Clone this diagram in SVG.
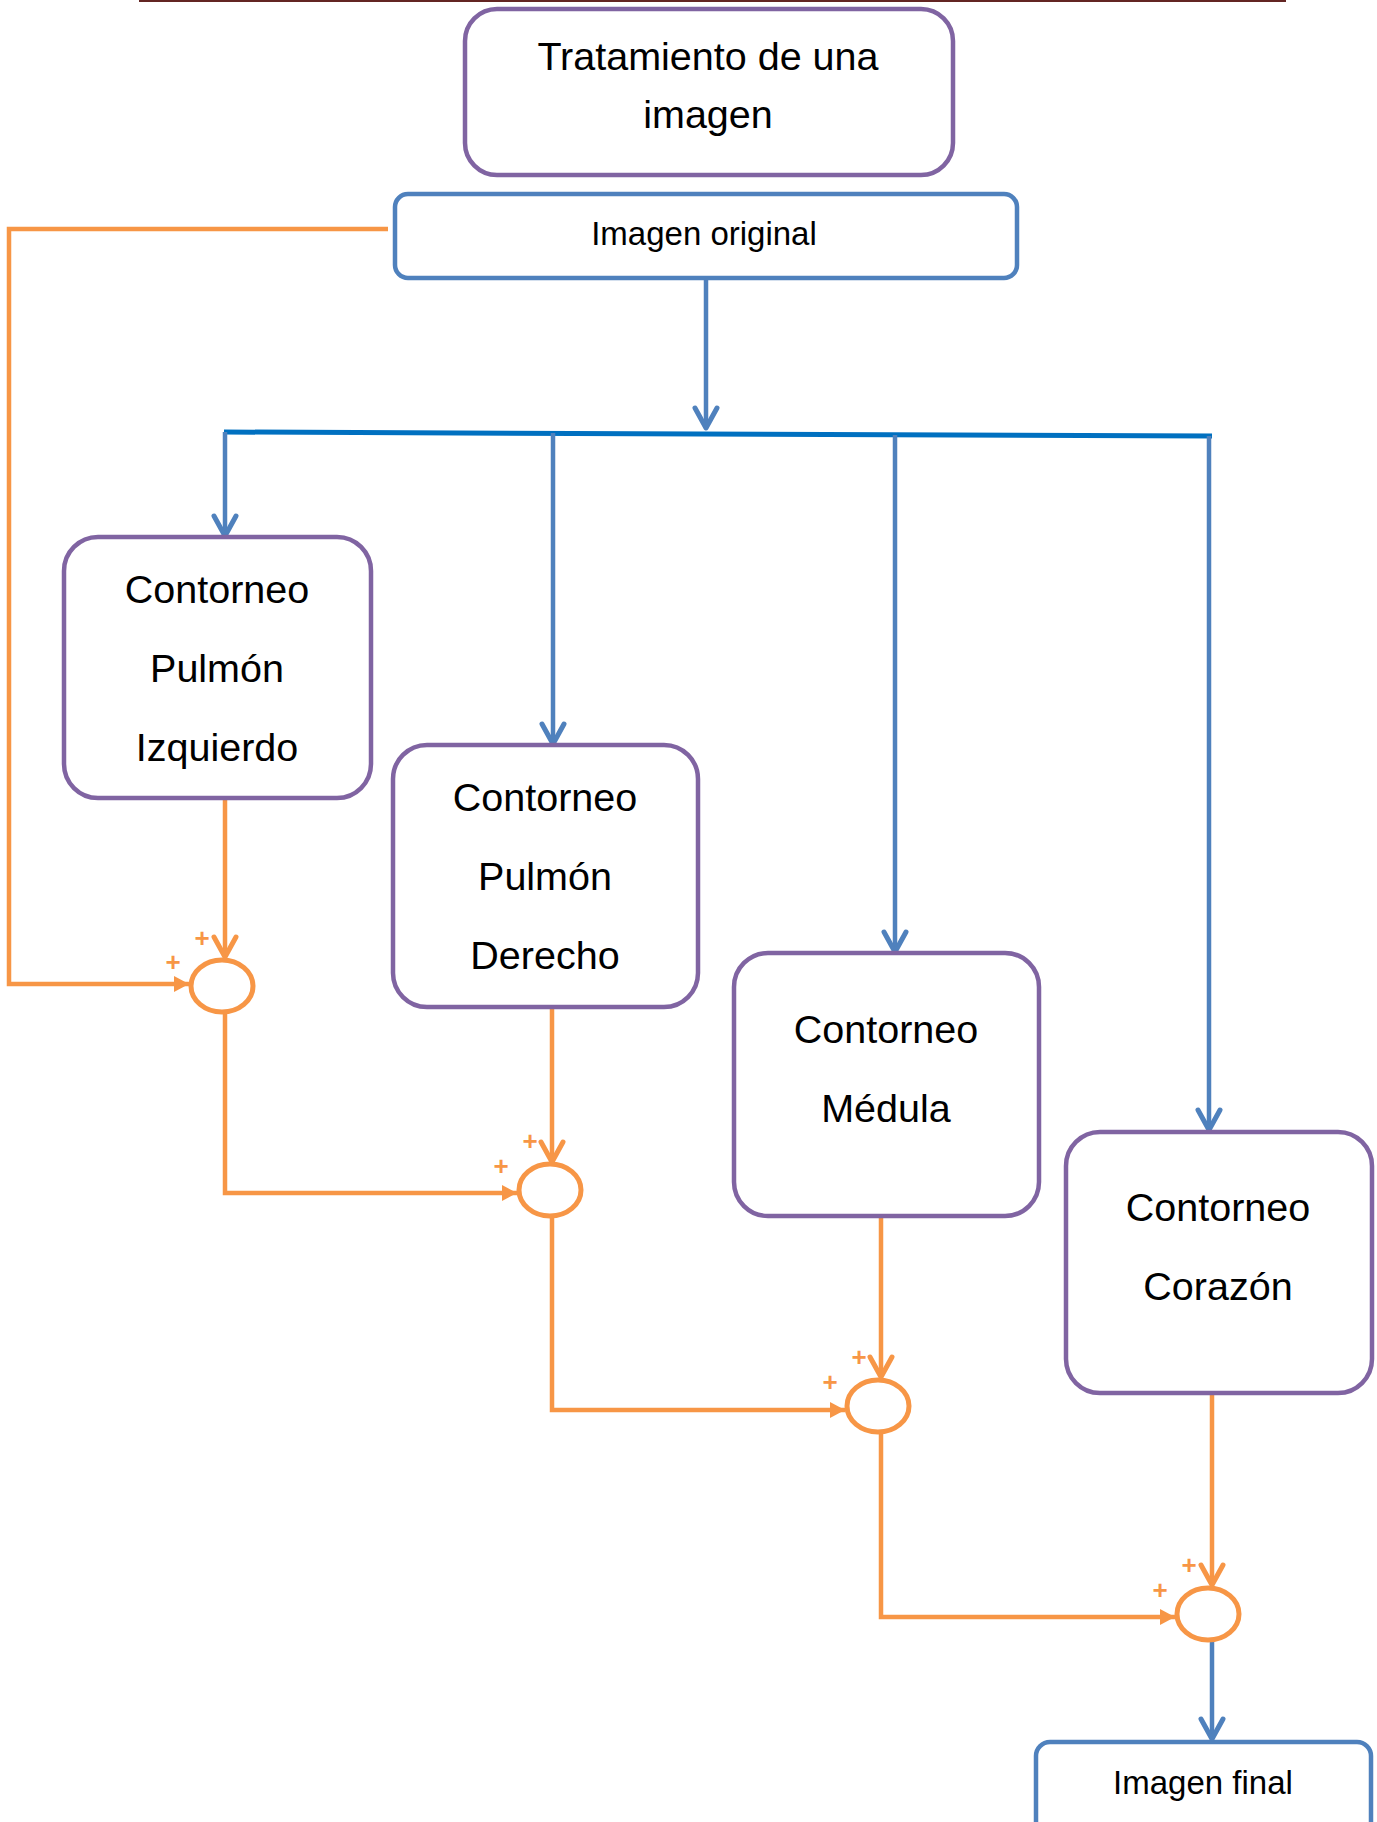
<svg xmlns="http://www.w3.org/2000/svg" width="1377" height="1822" viewBox="0 0 1377 1822">
  <style>
    .box-purple { fill: #ffffff; stroke: #8064A2; stroke-width: 4.5; }
    .box-blue { fill: #ffffff; stroke: #4F81BD; stroke-width: 4.5; }
    .label { font-family: "Liberation Sans", Arial, sans-serif; fill: #000000; text-anchor: middle; }
    .big { font-size: 39.5px; }
    .mid { font-size: 33px; }
    .blue-line { fill: none; stroke: #4F81BD; stroke-width: 4.5; }
    .bus { fill: none; stroke: #0070C0; stroke-width: 5; }
    .orange-line { fill: none; stroke: #F79646; stroke-width: 4.5; }
    .sum { fill: #ffffff; stroke: #F79646; stroke-width: 5; }
    .plus { font-family: "Liberation Sans", Arial, sans-serif; font-size: 26px; font-weight: bold; fill: #F79646; text-anchor: middle; }
  </style>
  <defs>
    <marker id="vBlue" markerUnits="userSpaceOnUse" viewBox="-26 -16 30 32" markerWidth="30" markerHeight="32" refX="0" refY="0" orient="auto" overflow="visible">
      <path d="M-20,-11 L0,0 L-20,11" fill="none" stroke="#4F81BD" stroke-width="5" stroke-linecap="round" stroke-linejoin="round"/>
    </marker>
    <marker id="vOrange" markerUnits="userSpaceOnUse" viewBox="-26 -16 30 32" markerWidth="30" markerHeight="32" refX="0" refY="0" orient="auto" overflow="visible">
      <path d="M-20,-11 L0,0 L-20,11" fill="none" stroke="#F79646" stroke-width="5" stroke-linecap="round" stroke-linejoin="round"/>
    </marker>
    <marker id="triOrange" markerUnits="userSpaceOnUse" viewBox="-18 -10 20 20" markerWidth="20" markerHeight="20" refX="0" refY="0" orient="auto" overflow="visible">
      <path d="M-15,-8 L0,0 L-15,8 Z" fill="#F79646"/>
    </marker>
  </defs>

  <!-- page header rule -->
  <line x1="139" y1="1" x2="1286" y2="1" stroke="#632523" stroke-width="2"/>

  <!-- connectors -->
  <g id="connectors">
    <!-- distribution from the original image -->
    <path class="blue-line" d="M706,278 V428" marker-end="url(#vBlue)"/>
    <path class="bus" d="M224,432 L1212,436"/>
    <path class="blue-line" d="M225,432 V536" marker-end="url(#vBlue)"/>
    <path class="blue-line" d="M553,433 V744" marker-end="url(#vBlue)"/>
    <path class="blue-line" d="M895,435 V952" marker-end="url(#vBlue)"/>
    <path class="blue-line" d="M1209,436 V1130" marker-end="url(#vBlue)"/>
    <path class="blue-line" d="M1212,1641 V1739" marker-end="url(#vBlue)"/>

    <!-- summing chain -->
    <path class="orange-line" d="M388,229 H9 V984 H189" marker-end="url(#triOrange)"/>
    <path class="orange-line" d="M225,800 V957" marker-end="url(#vOrange)"/>
    <path class="orange-line" d="M225,1013 V1193 H517" marker-end="url(#triOrange)"/>
    <path class="orange-line" d="M552,1008 V1162" marker-end="url(#vOrange)"/>
    <path class="orange-line" d="M552,1217 V1410 H845" marker-end="url(#triOrange)"/>
    <path class="orange-line" d="M881,1217 V1377" marker-end="url(#vOrange)"/>
    <path class="orange-line" d="M881,1433 V1617 H1175" marker-end="url(#triOrange)"/>
    <path class="orange-line" d="M1212,1393 V1585" marker-end="url(#vOrange)"/>
  </g>

  <!-- title -->
  <g id="title">
    <rect class="box-purple" x="465" y="9" width="488" height="166" rx="32"/>
    <text class="label big" x="708" y="70">Tratamiento de una</text>
    <text class="label big" x="708" y="128">imagen</text>
  </g>

  <g id="imagen-original">
    <rect class="box-blue" x="395" y="194" width="622" height="84" rx="13"/>
    <text class="label mid" x="704" y="245">Imagen original</text>
  </g>

  <g id="pulmon-izquierdo">
    <rect class="box-purple" x="64" y="537" width="307" height="261" rx="34"/>
    <text class="label big" x="217" y="603">Contorneo</text>
    <text class="label big" x="217" y="682">Pulmón</text>
    <text class="label big" x="217" y="761">Izquierdo</text>
  </g>

  <g id="pulmon-derecho">
    <rect class="box-purple" x="393" y="745" width="305" height="262" rx="34"/>
    <text class="label big" x="545" y="811">Contorneo</text>
    <text class="label big" x="545" y="890">Pulmón</text>
    <text class="label big" x="545" y="969">Derecho</text>
  </g>

  <g id="medula">
    <rect class="box-purple" x="734" y="953" width="305" height="263" rx="34"/>
    <text class="label big" x="886" y="1043">Contorneo</text>
    <text class="label big" x="886" y="1122">Médula</text>
  </g>

  <g id="corazon">
    <rect class="box-purple" x="1066" y="1132" width="306" height="261" rx="34"/>
    <text class="label big" x="1218" y="1221">Contorneo</text>
    <text class="label big" x="1218" y="1300">Corazón</text>
  </g>

  <!-- summing junctions -->
  <g id="suma-1">
    <ellipse class="sum" cx="222" cy="986" rx="31" ry="26"/>
    <text class="plus" x="202" y="947">+</text>
    <text class="plus" x="173" y="971">+</text>
  </g>
  <g id="suma-2">
    <ellipse class="sum" cx="550" cy="1190" rx="31" ry="26"/>
    <text class="plus" x="530" y="1150">+</text>
    <text class="plus" x="501" y="1175">+</text>
  </g>
  <g id="suma-3">
    <ellipse class="sum" cx="878" cy="1406" rx="31" ry="26"/>
    <text class="plus" x="859" y="1366">+</text>
    <text class="plus" x="830" y="1391">+</text>
  </g>
  <g id="suma-4">
    <ellipse class="sum" cx="1208" cy="1614" rx="31" ry="26"/>
    <text class="plus" x="1189" y="1574">+</text>
    <text class="plus" x="1160" y="1599">+</text>
  </g>

  <g id="imagen-final">
    <rect class="box-blue" x="1036" y="1742" width="335" height="110" rx="14"/>
    <text class="label mid" x="1203" y="1794">Imagen final</text>
  </g>
</svg>
